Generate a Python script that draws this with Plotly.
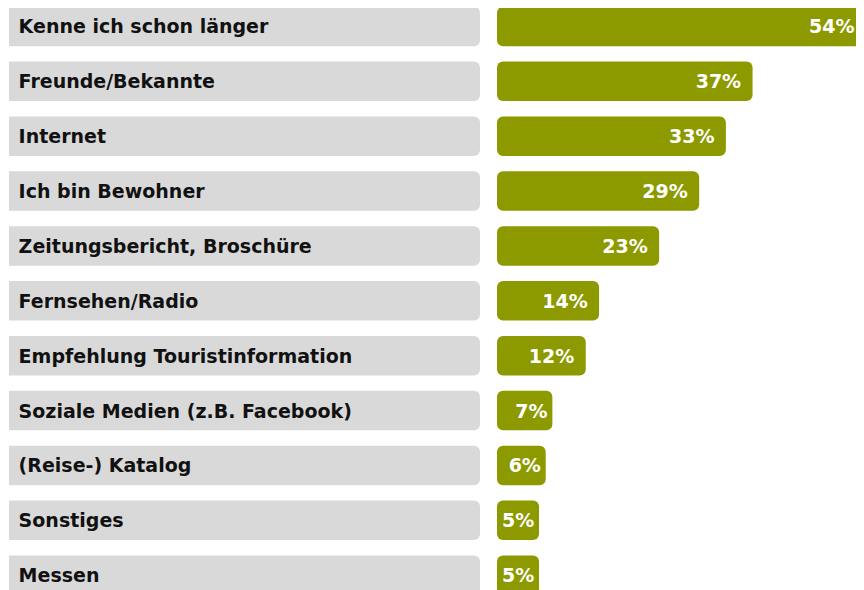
import plotly.graph_objects as go

# Woher kennen Sie ...? (Mehrfachnennung)
categories = [
    "Kenne ich schon länger",
    "Freunde/Bekannte",
    "Internet",
    "Ich bin Bewohner",
    "Zeitungsbericht, Broschüre",
    "Fernsehen/Radio",
    "Empfehlung Touristinformation",
    "Soziale Medien (z.B. Facebook)",
    "(Reise-) Katalog",
    "Sonstiges",
    "Messen",
]
shares = [54, 37, 33, 29, 23, 14, 12, 7, 6, 5, 5]

GREEN = "#8c9a00"
GREY = "#d9d9d9"
FONT = "DejaVu Sans"

# the page body has an 8px margin, so the figure is a bit smaller than the window
W, H = 848, 582
# bars get a small stub before zero so even 5% has room for its label
AXIS_START = -1.3

# a little breathing room after the value on the longer bars
value_labels = [f"{v}%\u00a0" if v >= 10 else f"{v}%" for v in shares]

fig = go.Figure()

# grey label boxes on the left, one per category
fig.add_trace(go.Bar(
    y=categories,
    x=[1] * len(categories),
    orientation="h",
    xaxis="x2",
    marker=dict(color=GREY, cornerradius=6, line_width=0),
    text=["\u00a0" + c for c in categories],
    textposition="inside",
    insidetextanchor="start",
    textangle=0,
    constraintext="none",
    textfont=dict(family=FONT, size=19, color="#111111", weight="bold"),
    hoverinfo="skip",
    showlegend=False,
))

# the actual shares
fig.add_trace(go.Bar(
    y=categories,
    x=[v - AXIS_START for v in shares],
    base=AXIS_START,
    orientation="h",
    marker=dict(color=GREEN, cornerradius=6, line_width=0),
    text=value_labels,
    textposition="inside",
    insidetextanchor="end",
    textangle=0,
    constraintext="none",
    textfont=dict(family=FONT, size=19, color="white", weight="bold"),
    hoverinfo="skip",
    showlegend=False,
))

fig.update_layout(
    width=W,
    height=H,
    margin=dict(l=0, r=0, t=0, b=0),
    paper_bgcolor="white",
    plot_bgcolor="white",
    barmode="overlay",
    bargap=0.28,
    xaxis=dict(domain=[489 / W, 1], range=[AXIS_START, 52.5], visible=False, fixedrange=True),
    xaxis2=dict(domain=[1 / W, 472 / W], range=[0, 1], visible=False, fixedrange=True),
    yaxis=dict(range=[10.27, -0.337], visible=False, fixedrange=True),
)

fig.write_html("out.html")
